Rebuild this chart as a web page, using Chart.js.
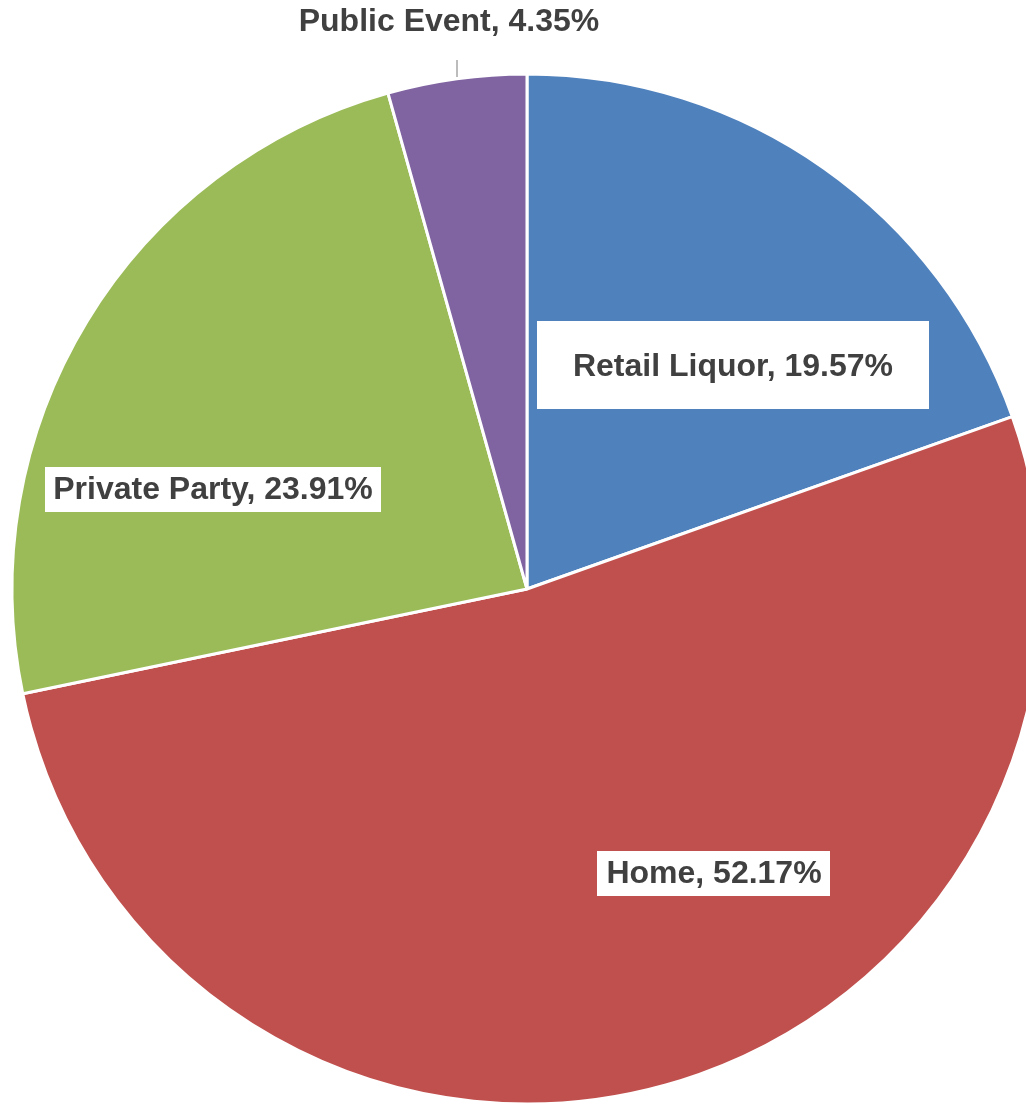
<!DOCTYPE html>
<html>
<head>
<meta charset="utf-8">
<script src="https://cdn.jsdelivr.net/npm/chart.js@4"></script>
<style>
  html, body { margin: 0; padding: 0; background: #fff; overflow: hidden; }
  #wrap { width: 1054px; height: 1104px; position: relative; }
</style>
</head>
<body>
<div id="wrap"><canvas id="c" width="1054" height="1104"></canvas></div>
<script>
const categories = ["Retail Liquor", "Home", "Private Party", "Public Event"]
const shares = [19.57, 52.17, 23.91, 4.35]
const colors = ["#4F81BD", "#C0504D", "#9BBB59", "#8064A2"]

// where each data label sits (box = white background, null = none)
const labelLayout = [
  { cx: 733, cy: 367, box: { x: 537, y: 321, w: 392, h: 88 } },
  { cx: 714, cy: 874, box: { x: 597, y: 851, w: 233, h: 45 } },
  { cx: 213, cy: 490, box: { x: 45, y: 467, w: 336, h: 45 } },
  { cx: 449, cy: 22, box: null, leader: [457, 60, 457, 77] }
]

const labelPlugin = {
  id: 'boxLabels',
  afterDatasetsDraw(chart) {
    const ctx = chart.ctx
    ctx.save()
    ctx.font = 'bold 32px "Liberation Sans", Arial, sans-serif'
    ctx.textAlign = 'center'
    ctx.textBaseline = 'middle'
    categories.forEach((name, i) => {
      const l = labelLayout[i]
      if (l.leader) {
        ctx.strokeStyle = '#A6A6A6'
        ctx.lineWidth = 1.5
        ctx.beginPath()
        ctx.moveTo(l.leader[0], l.leader[1])
        ctx.lineTo(l.leader[2], l.leader[3])
        ctx.stroke()
      }
      if (l.box) {
        ctx.fillStyle = '#FFFFFF'
        ctx.fillRect(l.box.x, l.box.y, l.box.w, l.box.h)
      }
      ctx.fillStyle = '#404040'
      ctx.fillText(name + ', ' + shares[i].toFixed(2) + '%', l.cx, l.cy)
    })
    ctx.restore()
  }
}

new Chart(document.getElementById('c'), {
  type: 'pie',
  data: {
    labels: categories,
    datasets: [{
      data: shares,
      backgroundColor: colors,
      borderColor: '#FFFFFF',
      borderWidth: 3
    }]
  },
  options: {
    responsive: false,
    animation: false,
    radius: 515,
    layout: { padding: { top: 74, left: 0, right: 0, bottom: 0 } },
    plugins: {
      legend: { display: false },
      tooltip: { enabled: false }
    }
  },
  plugins: [labelPlugin]
})
</script>
</body>
</html>
